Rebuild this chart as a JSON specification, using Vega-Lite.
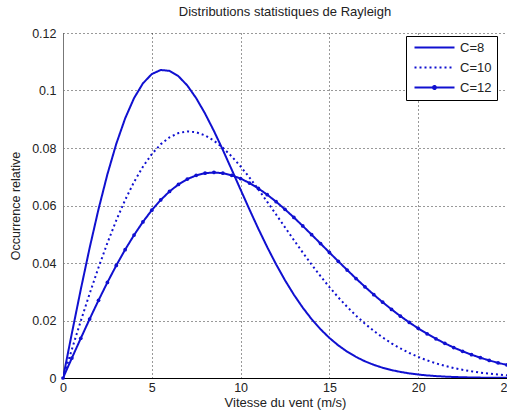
{
  "$schema": "https://vega.github.io/schema/vega-lite/v6.json",
  "width": 444,
  "height": 345,
  "autosize": "none",
  "padding": {"left": 63, "top": 33, "right": 0, "bottom": 40},
  "background": "white",
  "title": {"text": "Distributions statistiques de Rayleigh", "font": "Liberation Sans", "fontSize": 13, "fontWeight": "normal", "color": "#222", "offset": 8, "anchor": "middle"},
  "config": {
    "view": {"stroke": null},
    "font": "Liberation Sans"
  },
  "datasets": {
    "d": [
      {"v":0,"f":0,"C":"C=8"},{"v":0.5,"f":0.015564,"C":"C=8"},{"v":1,"f":0.030765,"C":"C=8"},{"v":1.5,"f":0.045255,"C":"C=8"},{"v":2,"f":0.058713,"C":"C=8"},{"v":2.5,"f":0.070856,"C":"C=8"},{"v":3,"f":0.081452,"C":"C=8"},{"v":3.5,"f":0.090321,"C":"C=8"},{"v":4,"f":0.09735,"C":"C=8"},{"v":4.5,"f":0.102485,"C":"C=8"},{"v":5,"f":0.105728,"C":"C=8"},{"v":5.5,"f":0.107138,"C":"C=8"},{"v":6,"f":0.106834,"C":"C=8"},{"v":6.5,"f":0.104969,"C":"C=8"},{"v":7,"f":0.10173,"C":"C=8"},{"v":7.5,"f":0.097322,"C":"C=8"},{"v":8,"f":0.09197,"C":"C=8"},{"v":8.5,"f":0.085903,"C":"C=8"},{"v":9,"f":0.079329,"C":"C=8"},{"v":9.5,"f":0.072464,"C":"C=8"},{"v":10,"f":0.065503,"C":"C=8"},{"v":10.5,"f":0.0586,"C":"C=8"},{"v":11,"f":0.051896,"C":"C=8"},{"v":11.5,"f":0.045511,"C":"C=8"},{"v":12,"f":0.039525,"C":"C=8"},{"v":12.5,"f":0.033999,"C":"C=8"},{"v":13,"f":0.028973,"C":"C=8"},{"v":13.5,"f":0.02446,"C":"C=8"},{"v":14,"f":0.020462,"C":"C=8"},{"v":14.5,"f":0.016963,"C":"C=8"},{"v":15,"f":0.013936,"C":"C=8"},{"v":15.5,"f":0.011347,"C":"C=8"},{"v":16,"f":0.009158,"C":"C=8"},{"v":16.5,"f":0.007328,"C":"C=8"},{"v":17,"f":0.005811,"C":"C=8"},{"v":17.5,"f":0.00457,"C":"C=8"},{"v":18,"f":0.003563,"C":"C=8"},{"v":18.5,"f":0.002754,"C":"C=8"},{"v":19,"f":0.00211,"C":"C=8"},{"v":19.5,"f":0.001603,"C":"C=8"},{"v":20,"f":0.001206,"C":"C=8"},{"v":20.5,"f":0.000901,"C":"C=8"},{"v":21,"f":0.000667,"C":"C=8"},{"v":21.5,"f":0.00049,"C":"C=8"},{"v":22,"f":0.000357,"C":"C=8"},{"v":22.5,"f":0.000258,"C":"C=8"},{"v":23,"f":0.000185,"C":"C=8"},{"v":23.5,"f":0.000131,"C":"C=8"},{"v":24,"f":0.0000926,"C":"C=8"},{"v":24.5,"f":0.0000647,"C":"C=8"},{"v":25,"f":0.0000449,"C":"C=8"},
      {"v":0,"f":0,"C":"C=10"},{"v":0.5,"f":0.009975,"C":"C=10"},{"v":1,"f":0.019801,"C":"C=10"},{"v":1.5,"f":0.029333,"C":"C=10"},{"v":2,"f":0.038432,"C":"C=10"},{"v":2.5,"f":0.046971,"C":"C=10"},{"v":3,"f":0.054836,"C":"C=10"},{"v":3.5,"f":0.061929,"C":"C=10"},{"v":4,"f":0.068171,"C":"C=10"},{"v":4.5,"f":0.073502,"C":"C=10"},{"v":5,"f":0.07788,"C":"C=10"},{"v":5.5,"f":0.081287,"C":"C=10"},{"v":6,"f":0.083722,"C":"C=10"},{"v":6.5,"f":0.085203,"C":"C=10"},{"v":7,"f":0.085768,"C":"C=10"},{"v":7.5,"f":0.085467,"C":"C=10"},{"v":8,"f":0.084366,"C":"C=10"},{"v":8.5,"f":0.082542,"C":"C=10"},{"v":9,"f":0.080075,"C":"C=10"},{"v":9.5,"f":0.077055,"C":"C=10"},{"v":10,"f":0.073576,"C":"C=10"},{"v":10.5,"f":0.069728,"C":"C=10"},{"v":11,"f":0.065604,"C":"C=10"},{"v":11.5,"f":0.061288,"C":"C=10"},{"v":12,"f":0.056863,"C":"C=10"},{"v":12.5,"f":0.052403,"C":"C=10"},{"v":13,"f":0.047975,"C":"C=10"},{"v":13.5,"f":0.043637,"C":"C=10"},{"v":14,"f":0.039441,"C":"C=10"},{"v":14.5,"f":0.035424,"C":"C=10"},{"v":15,"f":0.03162,"C":"C=10"},{"v":15.5,"f":0.028052,"C":"C=10"},{"v":16,"f":0.024738,"C":"C=10"},{"v":16.5,"f":0.021683,"C":"C=10"},{"v":17,"f":0.018896,"C":"C=10"},{"v":17.5,"f":0.01637,"C":"C=10"},{"v":18,"f":0.014099,"C":"C=10"},{"v":18.5,"f":0.012072,"C":"C=10"},{"v":19,"f":0.01028,"C":"C=10"},{"v":19.5,"f":0.008703,"C":"C=10"},{"v":20,"f":0.007326,"C":"C=10"},{"v":20.5,"f":0.006134,"C":"C=10"},{"v":21,"f":0.005105,"C":"C=10"},{"v":21.5,"f":0.004227,"C":"C=10"},{"v":22,"f":0.003479,"C":"C=10"},{"v":22.5,"f":0.002851,"C":"C=10"},{"v":23,"f":0.002319,"C":"C=10"},{"v":23.5,"f":0.001878,"C":"C=10"},{"v":24,"f":0.001512,"C":"C=10"},{"v":24.5,"f":0.001212,"C":"C=10"},{"v":25,"f":0.000965,"C":"C=10"},
      {"v":0,"f":0,"C":"C=12"},{"v":0.5,"f":0.006932,"C":"C=12"},{"v":1,"f":0.013793,"C":"C=12"},{"v":1.5,"f":0.02051,"C":"C=12"},{"v":2,"f":0.027017,"C":"C=12"},{"v":2.5,"f":0.033248,"C":"C=12"},{"v":3,"f":0.039142,"C":"C=12"},{"v":3.5,"f":0.044647,"C":"C=12"},{"v":4,"f":0.049713,"C":"C=12"},{"v":4.5,"f":0.054301,"C":"C=12"},{"v":5,"f":0.058377,"C":"C=12"},{"v":5.5,"f":0.061917,"C":"C=12"},{"v":6,"f":0.0649,"C":"C=12"},{"v":6.5,"f":0.067322,"C":"C=12"},{"v":7,"f":0.069181,"C":"C=12"},{"v":7.5,"f":0.070485,"C":"C=12"},{"v":8,"f":0.071243,"C":"C=12"},{"v":8.5,"f":0.07148,"C":"C=12"},{"v":9,"f":0.071222,"C":"C=12"},{"v":9.5,"f":0.070502,"C":"C=12"},{"v":10,"f":0.069354,"C":"C=12"},{"v":10.5,"f":0.06782,"C":"C=12"},{"v":11,"f":0.065937,"C":"C=12"},{"v":11.5,"f":0.063753,"C":"C=12"},{"v":12,"f":0.061313,"C":"C=12"},{"v":12.5,"f":0.058658,"C":"C=12"},{"v":13,"f":0.055835,"C":"C=12"},{"v":13.5,"f":0.052886,"C":"C=12"},{"v":14,"f":0.049848,"C":"C=12"},{"v":14.5,"f":0.046765,"C":"C=12"},{"v":15,"f":0.043669,"C":"C=12"},{"v":15.5,"f":0.040591,"C":"C=12"},{"v":16,"f":0.037558,"C":"C=12"},{"v":16.5,"f":0.034599,"C":"C=12"},{"v":17,"f":0.031733,"C":"C=12"},{"v":17.5,"f":0.028977,"C":"C=12"},{"v":18,"f":0.02635,"C":"C=12"},{"v":18.5,"f":0.023858,"C":"C=12"},{"v":19,"f":0.021512,"C":"C=12"},{"v":19.5,"f":0.019315,"C":"C=12"},{"v":20,"f":0.017271,"C":"C=12"},{"v":20.5,"f":0.015383,"C":"C=12"},{"v":21,"f":0.013641,"C":"C=12"},{"v":21.5,"f":0.01205,"C":"C=12"},{"v":22,"f":0.010601,"C":"C=12"},{"v":22.5,"f":0.00929,"C":"C=12"},{"v":23,"f":0.008108,"C":"C=12"},{"v":23.5,"f":0.00705,"C":"C=12"},{"v":24,"f":0.006105,"C":"C=12"},{"v":24.5,"f":0.005267,"C":"C=12"},{"v":25,"f":0.004525,"C":"C=12"}
    ]
  },
  "data": {"name": "d"},
  "layer": [
    {
      "mark": {"type": "line", "strokeWidth": 2, "clip": true},
      "encoding": {
        "x": {"field": "v", "type": "quantitative", "scale": {"domain": [0, 25], "nice": false},
          "axis": {"values": [0, 5, 10, 15, 20, 25], "title": "Vitesse du vent (m/s)", "titleFont": "Liberation Sans", "titleFontSize": 13, "titleFontWeight": "normal", "titleColor": "#222", "titlePadding": 3,
            "labelFont": "Liberation Sans", "labelFontSize": 12.5, "labelColor": "#222", "labelPadding": 3, "labelFlush": false,
            "ticks": false, "domainColor": "#000", "domainWidth": 1,
            "grid": true, "gridColor": "#000", "gridDash": [1, 3], "gridOpacity": 0.8, "gridWidth": 1}},
        "y": {"field": "f", "type": "quantitative", "scale": {"domain": [0, 0.12], "nice": false},
          "axis": {"values": [0, 0.02, 0.04, 0.06, 0.08, 0.1, 0.12], "format": "~g", "title": "Occurrence relative", "titleFont": "Liberation Sans", "titleFontSize": 12.5, "titleFontWeight": "normal", "titleColor": "#222", "titlePadding": 9,
            "labelFont": "Liberation Sans", "labelFontSize": 12.5, "labelColor": "#222", "labelPadding": 7, "labelFlush": false,
            "ticks": false, "domainColor": "#777", "domainWidth": 1,
            "grid": true, "gridColor": "#000", "gridDash": [1, 3], "gridOpacity": 0.8, "gridWidth": 1}},
        "color": {"field": "C", "type": "nominal", "sort": ["C=8", "C=10", "C=12"],
          "scale": {"domain": ["C=8", "C=10", "C=12"], "range": ["#1010d0", "#1010d0", "#1010d0"]},
          "legend": {"title": null, "orient": "none", "legendX": 343, "legendY": 3, "strokeColor": "#000", "fillColor": "#fff", "padding": 5,
            "labelFont": "Liberation Sans", "labelFontSize": 13, "labelColor": "#222", "labelOffset": 36, "rowPadding": 6,
            "symbolType": "M-0.6,0H7.4", "symbolSize": 100, "symbolStrokeWidth": 2, "symbolStrokeColor": "#1010d0",
            "encode": {"symbols": {"update": {"shape": {"signal": "datum.value === 'C=12' ? 'M-0.6,0H7.4M3.1,0A0.3,0.3 0 1,0 3.7,0A0.3,0.3 0 1,0 3.1,0' : 'M-0.6,0H7.4'"}}}}}},
        "strokeDash": {"field": "C", "type": "nominal", "sort": ["C=8", "C=10", "C=12"],
          "scale": {"domain": ["C=8", "C=10", "C=12"], "range": [[1, 0], [2, 3], [1, 0]]}, "legend": null},
        "detail": {"field": "C"}
      }
    },
    {
      "transform": [{"filter": "datum.C === 'C=12'"}],
      "mark": {"type": "point", "filled": true, "size": 14, "color": "#1010d0", "opacity": 1},
      "encoding": {
        "x": {"field": "v", "type": "quantitative"},
        "y": {"field": "f", "type": "quantitative"}
      }
    }
  ]
}
